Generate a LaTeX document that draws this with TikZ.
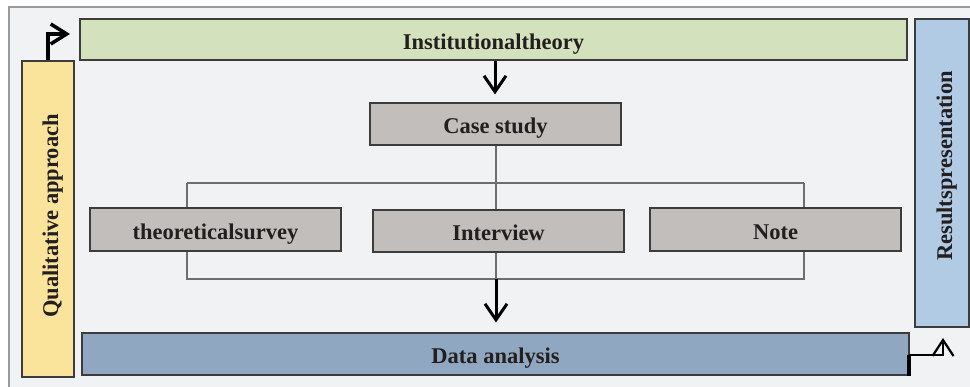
\documentclass[tikz,border=0pt]{standalone}
\usepackage{fontspec}
\setmainfont{Liberation Serif}
\usetikzlibrary{arrows.meta}
\definecolor{bgc}{HTML}{F1F2F4}
\definecolor{framec}{HTML}{9A9A9A}
\definecolor{greenc}{HTML}{D3E2BC}
\definecolor{yellowc}{HTML}{FAE39B}
\definecolor{bluec}{HTML}{B0CBE3}
\definecolor{dblue}{HTML}{8FA7C0}
\definecolor{grayc}{HTML}{C2BEBC}
\definecolor{edgec}{HTML}{3C3C3C}
\definecolor{treec}{HTML}{6E6E6E}
\definecolor{txtc}{HTML}{231F20}
\tikzset{
  boxbase/.style={draw=edgec, line width=1.1pt, inner sep=0pt, text=txtc,
    text height=20pt, text depth=0pt,
    font=\fontsize{22.5}{26}\selectfont\bfseries},
  greenbox/.style={boxbase, fill=greenc},
  graybox/.style={boxbase, fill=grayc},
  yellowbox/.style={boxbase, fill=yellowc},
  bluebox/.style={boxbase, fill=bluec},
  dbluebox/.style={boxbase, fill=dblue},
  treeline/.style={draw=treec, line width=1.1pt},
  arr/.style={draw=black, line width=3pt, -{Straight Barb[length=16pt,width=22pt]}},
}
\begin{document}
\begin{tikzpicture}[x=1pt,y=-1pt]
\useasboundingbox (0,0) rectangle (970,387);
\clip (0,0) rectangle (970,387);
\fill[white] (0,0) rectangle (970,387);
\draw[framec, fill=bgc, line width=1.5pt] (9,7) rectangle (990,400);

\node[greenbox, minimum width=827pt, minimum height=41pt] (inst) at (493.5,39.5) {Institutionaltheory};
\node[yellowbox, minimum width=316pt, minimum height=52pt, rotate=90] (qual) at (48,219) {\hspace{6pt}Qualitative approach};
\node[bluebox, minimum width=308pt, minimum height=54pt, rotate=90] (res) at (942,173) {\hspace{14pt}Resultspresentation};
\node[dbluebox, minimum width=827pt, minimum height=42pt] (data) at (495.5,354) {Data analysis};
\node[graybox, minimum width=251pt, minimum height=42pt] (case) at (495.5,124) {Case study};
\node[graybox, minimum width=251pt, minimum height=43pt] (theo) at (215.5,229.5) {theoreticalsurvey};
\node[graybox, minimum width=251pt, minimum height=42pt] (intv) at (498.5,231) {Interview};
\node[graybox, minimum width=251pt, minimum height=43pt] (note) at (775.5,229.5) {Note};

\coordinate (jt) at (496,183);
\coordinate (jl) at (187,183);
\coordinate (jr) at (804,183);
\coordinate (bl) at (187,279);
\coordinate (br) at (804,279);
\coordinate (bm) at (496,279);

% tree connectors
\draw[treeline] (case.south -| jt) -- (jt);
\draw[treeline] (jl) -- (jr);
\draw[treeline] (jl) -- (jl |- theo.north);
\draw[treeline] (jr) -- (jr |- note.north);
\draw[treeline] (jt) -- (jt |- intv.north);
\draw[treeline] (jl |- theo.south) -- (bl) -- (br) -- (jr |- note.south);
\draw[treeline] (intv.south -| bm) -- (bm);

% arrows
\draw[arr, shorten >=8pt] (inst.south -| 495,0) -- (case.north -| 495,0);
\draw[arr, shorten >=10pt] (bm) -- (data.north -| bm);
\coordinate (qa) at (70,34);
\coordinate (qc) at (48,34);
\draw[arr, line width=3.5pt, -{Straight Barb[length=16pt,width=20pt]}] (qual.east -| qc) -- (qc) -- (qa);
\coordinate (ra) at (943,338);
\coordinate (rc) at (909,355);
\coordinate (rd) at (943,355);
\draw[line width=3.5pt] (data.south east -| rc) -- (rc);
\draw[arr, line width=2.2pt, -{Straight Barb[length=16pt,width=21pt]}] (rc) -- (rd) -- (ra);
\end{tikzpicture}
\end{document}
